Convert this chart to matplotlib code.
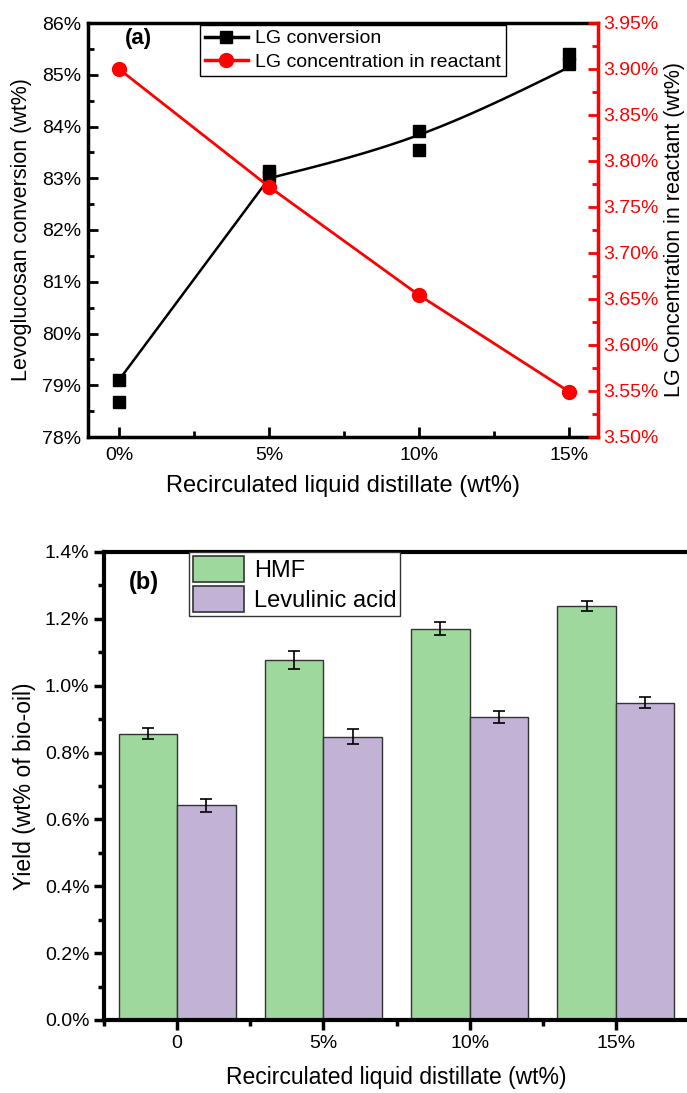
import numpy as np
import matplotlib
matplotlib.use("Agg")
import matplotlib.pyplot as plt
from matplotlib import font_manager
from matplotlib.lines import Line2D
from matplotlib.patches import Patch
from matplotlib.ticker import FuncFormatter, MultipleLocator

# ---- data -------------------------------------------------------------
recirc = [0, 5, 10, 15]                       # wt% recirculated distillate
recirc_labels_a = ["0%", "5%", "10%", "15%"]
recirc_labels_b = ["0", "5%", "10%", "15%"]

# LG conversion, two replicates per point (wt%)
conv_rep1 = [79.10, 83.14, 83.91, 85.40]
conv_rep2 = [78.68, 83.04, 83.55, 85.21]
# nodes of the smoothed trend line
conv_curve = [79.10, 83.00, 83.84, 85.15]

# LG concentration in reactant (wt%)
lg_conc = [3.900, 3.772, 3.654, 3.549]

# yields (wt% of bio-oil)
hmf = [0.857, 1.078, 1.171, 1.238]
hmf_err = [0.016, 0.027, 0.020, 0.015]
lev = [0.642, 0.848, 0.906, 0.949]
lev_err = [0.019, 0.022, 0.018, 0.017]

# ---- fonts ------------------------------------------------------------
names = {f.name for f in font_manager.fontManager.ttflist}
SANS = "Liberation Sans" if "Liberation Sans" in names else "DejaVu Sans"
plt.rcParams["font.family"] = SANS


def natural_spline(x, y, xs):
    """natural cubic spline, used only to draw the smooth trend line"""
    x = np.asarray(x, float)
    y = np.asarray(y, float)
    n = len(x)
    h = np.diff(x)
    A = np.zeros((n, n))
    r = np.zeros(n)
    A[0, 0] = A[-1, -1] = 1
    for i in range(1, n - 1):
        A[i, i - 1] = h[i - 1]
        A[i, i] = 2 * (h[i - 1] + h[i])
        A[i, i + 1] = h[i]
        r[i] = 6 * ((y[i + 1] - y[i]) / h[i] - (y[i] - y[i - 1]) / h[i - 1])
    M = np.linalg.solve(A, r)
    out = np.empty_like(xs)
    for j, t in enumerate(xs):
        i = min(max(np.searchsorted(x, t) - 1, 0), n - 2)
        a = (x[i + 1] - t) / h[i]
        b = (t - x[i]) / h[i]
        out[j] = (a * y[i] + b * y[i + 1]
                  + ((a ** 3 - a) * M[i] + (b ** 3 - b) * M[i + 1]) * h[i] ** 2 / 6)
    return out


fig = plt.figure(figsize=(6.87, 10.93), dpi=100)

# ---- panel (a) --------------------------------------------------------
ax = fig.add_axes([88 / 687, 1 - 437 / 1093, 510 / 687, 414 / 1093])
ax2 = ax.twinx()

# trend line: straight rise to 5 %, smooth through the rest
xa = np.linspace(recirc[0], recirc[1], 20)
ya = np.linspace(conv_curve[0], conv_curve[1], 20)
xb = np.linspace(recirc[1], recirc[3], 120)
yb = natural_spline(recirc[1:], conv_curve[1:], xb)
ax.plot(np.r_[xa, xb], np.r_[ya, yb], color="black", lw=1.8, zorder=3)
ax.plot(recirc, conv_rep1, "s", color="black", ms=8.5, zorder=4)
ax.plot(recirc, conv_rep2, "s", color="black", ms=8.5, zorder=4)

ax2.plot(recirc, lg_conc, "-o", color="#ff0000", lw=2.0, ms=10, zorder=3)

ax.set_xlim(-1.03, 15.95)
ax.set_ylim(78, 86)
ax2.set_ylim(3.50, 3.95)

ax.set_xticks(recirc)
ax.set_xticklabels(recirc_labels_a)
ax.xaxis.set_minor_locator(MultipleLocator(2.5))
ax.yaxis.set_major_locator(MultipleLocator(1))
ax.yaxis.set_minor_locator(MultipleLocator(0.5))
ax.yaxis.set_major_formatter(FuncFormatter(lambda v, p: f"{v:.0f}%"))
ax2.yaxis.set_major_locator(MultipleLocator(0.05))
ax2.yaxis.set_minor_locator(MultipleLocator(0.025))
ax2.yaxis.set_major_formatter(FuncFormatter(lambda v, p: f"{v:.2f}%"))

ax.tick_params(axis="both", which="both", direction="in", width=2)
ax.tick_params(axis="both", which="major", length=7)
ax.tick_params(axis="both", which="minor", length=4)
ax.tick_params(axis="x", pad=7, labelsize=14)
ax.tick_params(axis="y", labelsize=14, pad=5)
ax2.tick_params(axis="y", which="both", direction="in", width=2,
                colors="#ff0000", labelsize=14)
ax2.tick_params(axis="y", which="major", length=7)
ax2.tick_params(axis="y", which="minor", length=4)

for s in ["left", "bottom", "top"]:
    ax.spines[s].set_linewidth(2.5)
ax2.spines["right"].set_color("#ff0000")
ax2.spines["right"].set_linewidth(2.5)
for s in ["left", "bottom", "top"]:
    ax2.spines[s].set_visible(False)

ax.set_xlabel("Recirculated liquid distillate (wt%)", fontsize=17, labelpad=8)
ax.set_ylabel("Levoglucosan conversion (wt%)", fontsize=15.5, labelpad=7)
ax2.set_ylabel("LG Concentration in reactant (wt%)", fontsize=15.5,
               labelpad=4, color="black")

ax.text(0.072, 0.962, "(a)", transform=ax.transAxes, fontsize=16,
        fontweight="bold", ha="left", va="center")

handles_a = [
    Line2D([], [], color="black", lw=2.5, marker="s", ms=9),
    Line2D([], [], color="#ff0000", lw=2.5, marker="o", ms=10),
]
leg = ax2.legend(handles_a, ["LG conversion", "LG concentration in reactant"],
                 loc="upper left", bbox_to_anchor=(112 / 510, 1 - 2 / 414),
                 borderaxespad=0, frameon=True, fancybox=False, framealpha=1,
                 edgecolor="black", borderpad=0.25, handlelength=2.2,
                 handletextpad=0.4, labelspacing=0.3, fontsize=14)
leg.get_frame().set_linewidth(1.0)

# ---- panel (b) --------------------------------------------------------
bx = fig.add_axes([104 / 687, 1 - 1020 / 1093, 585 / 687, 468 / 1093])
pos = np.arange(len(recirc))
w = 0.4
green = "#9fd89d"
purple = "#c2b2d6"
bx.bar(pos - w / 2, hmf, w, yerr=hmf_err, color=green, edgecolor="#333333",
       linewidth=1, capsize=4, error_kw={"elinewidth": 1.2, "capthick": 1.2})
bx.bar(pos + w / 2, lev, w, yerr=lev_err, color=purple, edgecolor="#333333",
       linewidth=1, capsize=4, error_kw={"elinewidth": 1.2, "capthick": 1.2})

bx.set_xlim(-0.5, 3.5)
bx.set_ylim(0, 1.4)
bx.set_xticks(pos)
bx.set_xticklabels(recirc_labels_b)
bx.xaxis.set_minor_locator(MultipleLocator(0.5))
bx.yaxis.set_major_locator(MultipleLocator(0.2))
bx.yaxis.set_minor_locator(MultipleLocator(0.1))
bx.yaxis.set_major_formatter(FuncFormatter(lambda v, p: f"{v:.1f}%"))
bx.tick_params(axis="both", which="both", direction="out", width=2.5)
bx.tick_params(axis="both", which="major", length=7, labelsize=14)
bx.tick_params(axis="both", which="minor", length=4)
bx.tick_params(axis="x", pad=4)
for s in bx.spines.values():
    s.set_linewidth(3)

bx.set_xlabel("Recirculated liquid distillate (wt%)", fontsize=16.5, labelpad=10)
bx.set_ylabel("Yield (wt% of bio-oil)", fontsize=16.5, labelpad=6)
bx.text(0.043, 0.935, "(b)", transform=bx.transAxes, fontsize=17,
        fontweight="bold", ha="left", va="center")

handles_b = [Patch(facecolor=green, edgecolor="#333333", lw=1.2),
             Patch(facecolor=purple, edgecolor="#333333", lw=1.2)]
leg_b = bx.legend(handles_b, ["HMF", "Levulinic acid"], loc="upper left",
                  bbox_to_anchor=(85 / 585, 1.0), borderaxespad=0,
                  frameon=True, fancybox=False, framealpha=1,
                  edgecolor="#333333", borderpad=0.15, handlelength=2.2,
                  handleheight=1.35, handletextpad=0.4, labelspacing=0.15,
                  fontsize=17)
leg_b.get_frame().set_linewidth(1.0)

fig.savefig("out.png", dpi=100)
